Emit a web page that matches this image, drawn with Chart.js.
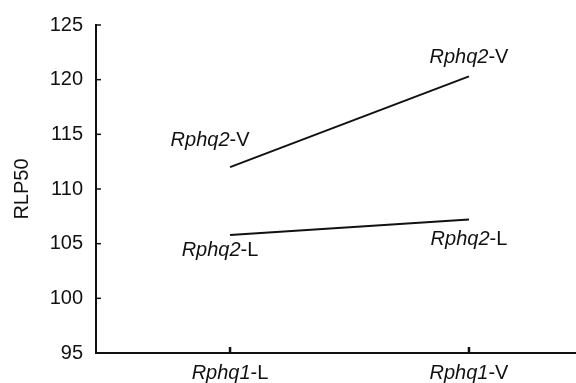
<!DOCTYPE html>
<html>
<head>
<meta charset="utf-8">
<script src="https://cdn.jsdelivr.net/npm/chart.js@4"></script>
<style>
  html, body { margin: 0; padding: 0; background: #fff; }
  #wrap { width: 576px; height: 383px; }
</style>
</head>
<body>
<div id="wrap"><canvas id="cv-rlp"></canvas></div>
<script>
// data
let categories = ['Rphq1-L', 'Rphq1-V'];
let seriesNames = ['Rphq2-V', 'Rphq2-L'];
let rphq2V = [112.0, 120.3];
let rphq2L = [105.8, 107.2];
let yTicks = [95, 100, 105, 110, 115, 120, 125];

let fontFam = '"Liberation Sans", Arial, Helvetica, sans-serif';
let ink = '#111';

// label placement around each line end (pixels from the point)
let labelOffsets = [
    [[-20, -27], [0, -19]],
    [[-10, 16], [0, 20]]
];

function drawMixed(ctx, text, cx, cy){
    // italic gene name, plain allele suffix
    let i = text.indexOf('-');
    let a = text.slice(0, i), b = text.slice(i);
    ctx.font = 'italic 20px ' + fontFam;
    let wa = ctx.measureText(a).width;
    ctx.font = '20px ' + fontFam;
    let wb = ctx.measureText(b).width;
    let x0 = cx - (wa + wb) / 2;
    ctx.textBaseline = 'middle';
    ctx.textAlign = 'left';
    ctx.font = 'italic 20px ' + fontFam;
    ctx.fillText(a, x0, cy);
    ctx.font = '20px ' + fontFam;
    ctx.fillText(b, x0 + wa, cy);
}

let decor = {
    id: 'decor',
    afterDraw(chart){
        let ctx = chart.ctx;
        let xs = chart.scales.x, ys = chart.scales.y;
        ctx.save();
        ctx.strokeStyle = ink;
        ctx.fillStyle = ink;
        ctx.lineWidth = 1.5;
        yTicks.forEach(function(v){
            let y = ys.getPixelForValue(v);
            ctx.beginPath();
            ctx.moveTo(xs.left, y);
            ctx.lineTo(xs.left + 5, y);
            ctx.stroke();
        });
        ctx.lineWidth = 2.5;
        categories.forEach(function(c, i){
            let x = xs.getPixelForValue(i);
            ctx.beginPath();
            ctx.moveTo(x, ys.bottom);
            ctx.lineTo(x, ys.bottom - 6);
            ctx.stroke();
            drawMixed(ctx, c, x, ys.bottom + 20);
        });
        chart.data.datasets.forEach(function(ds, d){
            ds.data.forEach(function(p, i){
                let px = xs.getPixelForValue(p.x);
                let py = ys.getPixelForValue(p.y);
                drawMixed(ctx, seriesNames[d], px + labelOffsets[d][i][0], py + labelOffsets[d][i][1]);
            });
        });
        ctx.restore();
    }
};

let ctx1 = document.getElementById('cv-rlp').getContext('2d');

new Chart(ctx1, {
    type: 'line',
    data: {
        datasets: [rphq2V, rphq2L].map(function(vals, d){
            return {
                label: seriesNames[d],
                data: vals.map(function(v, i){ return {x: i, y: v}; }),
                borderColor: ink,
                borderWidth: 2,
                pointRadius: 0,
                fill: false,
                tension: 0
            };
        })
    },
    options: {
        responsive: true,
        maintainAspectRatio: false,
        animation: false,
        layout: { padding: { top: 22, right: 0, left: 0, bottom: 0 } },
        plugins: {
            legend: { display: false },
            tooltip: { enabled: false }
        },
        scales: {
            x: {
                type: 'linear',
                min: -0.561,
                max: 1.448,
                grid: { display: false, drawTicks: false },
                border: { display: true, color: ink, width: 2 },
                ticks: { display: false },
                afterFit: function(s){ s.height = 30; }
            },
            y: {
                min: 95,
                max: 125,
                grid: { display: false, drawTicks: false },
                border: { display: true, color: ink, width: 2 },
                afterBuildTicks: function(s){ s.ticks = yTicks.map(function(v){ return {value: v}; }); },
                ticks: {
                    color: ink,
                    padding: 13,
                    font: { family: fontFam, size: 20 }
                },
                title: {
                    display: true,
                    text: 'RLP50',
                    color: ink,
                    padding: { top: 10, bottom: 0 },
                    font: { family: fontFam, size: 20 }
                },
                afterFit: function(s){ s.width = 96; }
            }
        }
    },
    plugins: [decor]
});
</script>
</body>
</html>
